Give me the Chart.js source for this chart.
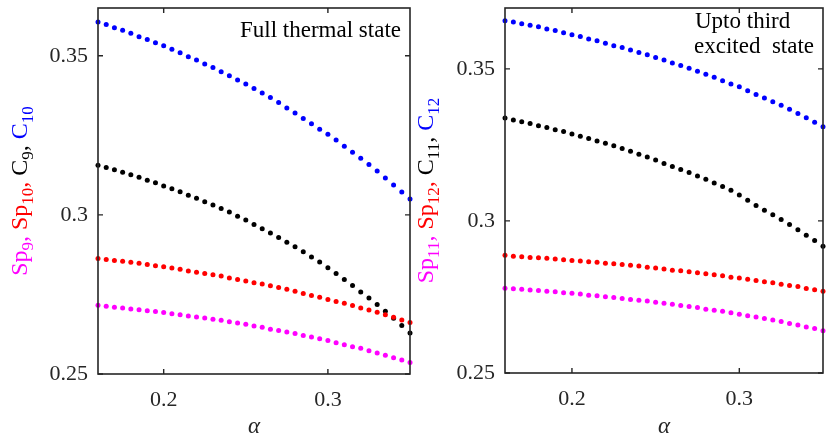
<!DOCTYPE html>
<html>
<head>
<meta charset="utf-8">
<script src="https://cdn.jsdelivr.net/npm/chart.js@4/dist/chart.umd.min.js"></script>
<style>
  html, body { margin: 0; padding: 0; background: #fff; }
  #wrap { position: relative; width: 830px; height: 436px; }
  canvas { position: absolute; top: 0; }
  #left { left: 0; }
  #right { left: 415px; }
</style>
</head>
<body>
<div id="wrap">
  <canvas id="left" width="415" height="436"></canvas>
  <canvas id="right" width="415" height="436"></canvas>
</div>
<script>
// alpha values (x axis)
const alpha = [0.16, 0.165, 0.17, 0.175, 0.18, 0.185, 0.19, 0.195, 0.2, 0.205,
  0.21, 0.215, 0.22, 0.225, 0.23, 0.235, 0.24, 0.245, 0.25, 0.255,
  0.26, 0.265, 0.27, 0.275, 0.28, 0.285, 0.29, 0.295, 0.3, 0.305,
  0.31, 0.315, 0.32, 0.325, 0.33, 0.335, 0.34, 0.345, 0.35];

const xTicks = [0.2, 0.3];
const yTicks = [0.25, 0.3, 0.35];

// Full thermal state
const c10 = [0.3606, 0.3598, 0.3588, 0.3580, 0.3571, 0.3560, 0.3551, 0.3541, 0.3531, 0.3520,
  0.3509, 0.3497, 0.3487, 0.3474, 0.3463, 0.3450, 0.3437, 0.3424, 0.3411, 0.3397,
  0.3383, 0.3369, 0.3353, 0.3336, 0.3320, 0.3303, 0.3286, 0.3269, 0.3253, 0.3235,
  0.3216, 0.3197, 0.3178, 0.3158, 0.3138, 0.3116, 0.3094, 0.3072, 0.3050];
const c9 = [0.3156, 0.3149, 0.3142, 0.3134, 0.3126, 0.3118, 0.3109, 0.3101, 0.3091, 0.3082,
  0.3073, 0.3062, 0.3052, 0.3041, 0.3031, 0.3020, 0.3009, 0.2996, 0.2984, 0.2970,
  0.2956, 0.2943, 0.2929, 0.2914, 0.2900, 0.2884, 0.2868, 0.2852, 0.2834, 0.2816,
  0.2797, 0.2778, 0.2758, 0.2739, 0.2718, 0.2697, 0.2675, 0.2652, 0.2629];
const sp10 = [0.2863, 0.2860, 0.2857, 0.2854, 0.2851, 0.2848, 0.2844, 0.2840, 0.2837, 0.2833,
  0.2829, 0.2824, 0.2820, 0.2816, 0.2812, 0.2808, 0.2802, 0.2797, 0.2792, 0.2787,
  0.2783, 0.2777, 0.2772, 0.2766, 0.2760, 0.2753, 0.2747, 0.2741, 0.2734, 0.2728,
  0.2722, 0.2715, 0.2707, 0.2701, 0.2694, 0.2686, 0.2678, 0.2670, 0.2662];
const sp9 = [0.2716, 0.2713, 0.2710, 0.2707, 0.2704, 0.2702, 0.2699, 0.2696, 0.2693, 0.2689,
  0.2686, 0.2682, 0.2679, 0.2676, 0.2672, 0.2669, 0.2664, 0.2660, 0.2656, 0.2651,
  0.2647, 0.2641, 0.2637, 0.2632, 0.2627, 0.2621, 0.2616, 0.2611, 0.2605, 0.2598,
  0.2592, 0.2586, 0.2581, 0.2573, 0.2566, 0.2559, 0.2551, 0.2544, 0.2536];

// Upto third excited state
const c12 = [0.3658, 0.3654, 0.3648, 0.3643, 0.3638, 0.3631, 0.3626, 0.3619, 0.3612, 0.3606,
  0.3598, 0.3592, 0.3584, 0.3576, 0.3570, 0.3562, 0.3554, 0.3546, 0.3537, 0.3529,
  0.3519, 0.3511, 0.3502, 0.3492, 0.3482, 0.3472, 0.3461, 0.3450, 0.3441, 0.3428,
  0.3416, 0.3404, 0.3392, 0.3380, 0.3367, 0.3353, 0.3339, 0.3324, 0.3310];
const c11 = [0.3338, 0.3332, 0.3326, 0.3320, 0.3313, 0.3307, 0.3300, 0.3294, 0.3286, 0.3278,
  0.3271, 0.3263, 0.3255, 0.3247, 0.3238, 0.3229, 0.3219, 0.3210, 0.3200, 0.3189,
  0.3179, 0.3169, 0.3159, 0.3148, 0.3137, 0.3125, 0.3113, 0.3101, 0.3085, 0.3068,
  0.3051, 0.3035, 0.3020, 0.3005, 0.2988, 0.2971, 0.2953, 0.2936, 0.2917];
const sp12 = [0.2887, 0.2884, 0.2882, 0.2880, 0.2879, 0.2877, 0.2875, 0.2872, 0.2870, 0.2868,
  0.2866, 0.2864, 0.2861, 0.2859, 0.2857, 0.2854, 0.2852, 0.2848, 0.2845, 0.2842,
  0.2838, 0.2836, 0.2833, 0.2830, 0.2826, 0.2823, 0.2820, 0.2815, 0.2812, 0.2808,
  0.2804, 0.2800, 0.2797, 0.2792, 0.2788, 0.2784, 0.2778, 0.2774, 0.2769];
const sp11 = [0.2779, 0.2777, 0.2775, 0.2773, 0.2771, 0.2769, 0.2767, 0.2764, 0.2762, 0.2760,
  0.2756, 0.2754, 0.2751, 0.2748, 0.2745, 0.2742, 0.2739, 0.2737, 0.2733, 0.2729,
  0.2726, 0.2722, 0.2719, 0.2715, 0.2710, 0.2706, 0.2703, 0.2698, 0.2693, 0.2688,
  0.2684, 0.2679, 0.2674, 0.2669, 0.2663, 0.2658, 0.2651, 0.2646, 0.2639];

const FONT = "'Liberation Serif', 'Times New Roman', serif";
const AXIS = '#262626';
const BLUE = '#0000ff', BLACK = '#000000', RED = '#ff0000', MAGENTA = '#ff00ff';

function dots(values, color) {
  return {
    data: alpha.map((a, i) => ({ x: a, y: values[i] })),
    showLine: false,
    pointRadius: 2.5,
    pointHoverRadius: 2.5,
    pointBorderWidth: 0,
    pointBackgroundColor: color,
    borderColor: color,
    clip: false
  };
}

// box around the plot with inward tick marks on all four sides
const boxPlugin = {
  id: 'box',
  afterDraw(chart) {
    const { ctx, chartArea: a, scales } = chart;
    ctx.save();
    ctx.strokeStyle = AXIS;
    ctx.lineWidth = 1.6;
    ctx.strokeRect(a.left, a.top, a.right - a.left, a.bottom - a.top);
    ctx.lineWidth = 1.4;
    ctx.beginPath();
    xTicks.forEach(v => {
      const px = scales.x.getPixelForValue(v);
      ctx.moveTo(px, a.bottom); ctx.lineTo(px, a.bottom - 5);
      ctx.moveTo(px, a.top); ctx.lineTo(px, a.top + 5);
    });
    yTicks.forEach(v => {
      const py = scales.y.getPixelForValue(v);
      ctx.moveTo(a.left, py); ctx.lineTo(a.left + 5, py);
      ctx.moveTo(a.right, py); ctx.lineTo(a.right - 5, py);
    });
    ctx.stroke();
    ctx.restore();
  }
};

// rotated, coloured y label with subscripts + in-panel note
const textPlugin = {
  id: 'texts',
  afterDraw(chart, args, opts) {
    const { ctx, chartArea: a } = chart;
    ctx.save();
    // note
    ctx.fillStyle = '#000';
    ctx.font = '23px ' + FONT;
    ctx.textBaseline = 'alphabetic';
    opts.note.forEach(n => {
      ctx.textAlign = n.align;
      ctx.fillText(n.text, n.x, n.y);
    });
    // y label
    const main = '24px ' + FONT, sub = '17px ' + FONT;
    let total = 0;
    opts.label.forEach(p => {
      ctx.font = p.sub ? sub : main;
      total += ctx.measureText(p.t).width;
    });
    ctx.translate(opts.labelX, (a.top + a.bottom) / 2);
    ctx.rotate(-Math.PI / 2);
    ctx.textAlign = 'left';
    let x = -total / 2;
    opts.label.forEach(p => {
      ctx.font = p.sub ? sub : main;
      ctx.fillStyle = p.c;
      ctx.fillText(p.t, x, p.sub ? 6 : 0);
      x += ctx.measureText(p.t).width;
    });
    ctx.restore();
  }
};

function makeChart(id, series, yMax, yWidth, xHeight, padRight, note, label, labelX) {
  const ctx = document.getElementById(id).getContext('2d');
  return new Chart(ctx, {
    type: 'scatter',
    data: { datasets: series },
    options: {
      responsive: false,
      animation: false,
      layout: { padding: { left: 0, right: padRight, top: 8, bottom: 0 } },
      plugins: {
        legend: { display: false },
        tooltip: { enabled: false },
        texts: { note, label, labelX }
      },
      scales: {
        x: {
          type: 'linear', min: 0.16, max: 0.35,
          afterBuildTicks: s => { s.ticks = xTicks.map(v => ({ value: v })); },
          afterFit: s => { s.height = xHeight; s.paddingLeft = 0; s.paddingRight = 0; },
          ticks: { callback: v => String(v), color: AXIS, font: { family: FONT, size: 22 }, padding: 13, maxRotation: 0 },
          grid: { display: false, drawTicks: false },
          border: { display: false },
          title: { display: true, text: 'α', color: AXIS, font: { family: FONT, size: 23, style: 'italic' }, padding: { top: 0, bottom: -5 } }
        },
        y: {
          type: 'linear', min: 0.25, max: yMax,
          afterBuildTicks: s => { s.ticks = yTicks.map(v => ({ value: v })); },
          afterFit: s => { s.width = yWidth; s.paddingTop = 0; s.paddingBottom = 0; },
          ticks: { callback: v => String(v), color: AXIS, font: { family: FONT, size: 22 }, padding: 10 },
          grid: { display: false, drawTicks: false },
          border: { display: false }
        }
      }
    },
    plugins: [boxPlugin, textPlugin]
  });
}

makeChart('left',
  [dots(sp9, MAGENTA), dots(sp10, RED), dots(c9, BLACK), dots(c10, BLUE)],
  0.365, 98, 62, 5,
  [{ text: 'Full thermal state', x: 401, y: 37, align: 'right' }],
  [{ t: 'Sp', c: MAGENTA }, { t: '9', c: MAGENTA, sub: true }, { t: ', ', c: MAGENTA },
   { t: 'Sp', c: RED }, { t: '10', c: RED, sub: true }, { t: ', ', c: RED },
   { t: 'C', c: BLACK }, { t: '9', c: BLACK, sub: true }, { t: ', ', c: BLACK },
   { t: 'C', c: BLUE }, { t: '10', c: BLUE, sub: true }],
  27);

makeChart('right',
  [dots(sp11, MAGENTA), dots(sp12, RED), dots(c11, BLACK), dots(c12, BLUE)],
  0.37, 90, 63, 7,
  [{ text: 'Upto third', x: 280, y: 28, align: 'left' },
   { text: 'excited  state', x: 279, y: 53, align: 'left' }],
  [{ t: 'Sp', c: MAGENTA }, { t: '11', c: MAGENTA, sub: true }, { t: ', ', c: MAGENTA },
   { t: 'Sp', c: RED }, { t: '12', c: RED, sub: true }, { t: ', ', c: RED },
   { t: 'C', c: BLACK }, { t: '11', c: BLACK, sub: true }, { t: ', ', c: BLACK },
   { t: 'C', c: BLUE }, { t: '12', c: BLUE, sub: true }],
  18);
</script>
</body>
</html>
